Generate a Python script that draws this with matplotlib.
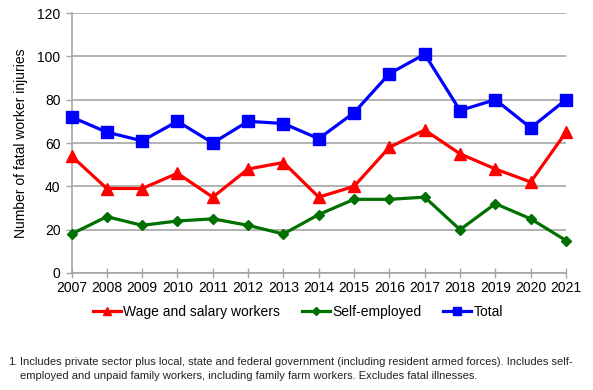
import matplotlib.pyplot as plt

plt.rcParams['font.family'] = ['Liberation Sans', 'DejaVu Sans']

years = [2007, 2008, 2009, 2010, 2011, 2012, 2013, 2014, 2015, 2016, 2017, 2018, 2019, 2020, 2021]
wage_salary = [54, 39, 39, 46, 35, 48, 51, 35, 40, 58, 66, 55, 48, 42, 65]
self_employed = [18, 26, 22, 24, 25, 22, 18, 27, 34, 34, 35, 20, 32, 25, 15]
total = [72, 65, 61, 70, 60, 70, 69, 62, 74, 92, 101, 75, 80, 67, 80]
y_ticks = [0, 20, 40, 60, 80, 100, 120]

footnote_1 = ("Includes private sector plus local, state and federal government "
              "(including resident armed forces). Includes self-")
footnote_2 = "employed and unpaid family workers, including family farm workers. Excludes fatal illnesses."

grid_color = '#a6a6a6'
tick_size = 10
label_size = 10

fig = plt.figure(figsize=(5.93, 3.90), dpi=100)
ax = fig.add_axes([71.5 / 593, 117 / 390, (566 - 71.5) / 593, 260 / 390])

ax.plot(years, wage_salary, color='#ff0000', marker='^', markersize=8, linewidth=2.3,
        label='Wage and salary workers', clip_on=False, zorder=3)
ax.plot(years, self_employed, color='#007000', marker='D', markersize=5.5, linewidth=2.3,
        label='Self-employed', clip_on=False, zorder=3)
ax.plot(years, total, color='#0000ff', marker='s', markersize=8.5, linewidth=2.3,
        label='Total', clip_on=False, zorder=3)

ax.set_xlim(2007, 2021)
ax.set_ylim(0, 120)
ax.set_xticks(years)
ax.set_yticks(y_ticks)
ax.tick_params(axis='x', direction='inout', length=7, width=1, color=grid_color,
               labelsize=tick_size, pad=2)
ax.tick_params(axis='y', direction='out', length=4, width=1, color=grid_color,
               labelsize=tick_size, pad=4)

ax.yaxis.grid(True, color=grid_color, linewidth=1.2)
ax.set_axisbelow(True)
for side in ['top', 'right']:
    ax.spines[side].set_visible(False)
for side in ['left', 'bottom']:
    ax.spines[side].set_color(grid_color)
    ax.spines[side].set_linewidth(1.2)

ax.set_ylabel('Number of fatal worker injuries', fontsize=label_size)
ax.yaxis.set_label_coords((28 - 71.5) / 494.5, 0.5)

ax.legend(loc='center', bbox_to_anchor=(298 / 593, 1 - 312 / 390),
          bbox_transform=fig.transFigure, ncol=3, frameon=False,
          fontsize=label_size, handlelength=2.0, handletextpad=0.15,
          columnspacing=1.6, markerscale=0.75, borderaxespad=0, borderpad=0)

note_style = dict(fontsize=8, va='center', color='#222222')
fig.text(8 / 593, 1 - 362 / 390, '1.', **note_style)
line_1 = fig.text(20 / 593, 1 - 362 / 390, footnote_1, **note_style)
line_2 = fig.text(20 / 593, 1 - 376 / 390, footnote_2, **note_style)

# scale the footnote so the first line ends where it does in the original
renderer = fig.canvas.get_renderer()
width_px = line_1.get_window_extent(renderer).width
note_size = 8 * (573 - 20) / width_px
line_1.set_fontsize(note_size)
line_2.set_fontsize(note_size)

fig.savefig('out.png', dpi=100)
